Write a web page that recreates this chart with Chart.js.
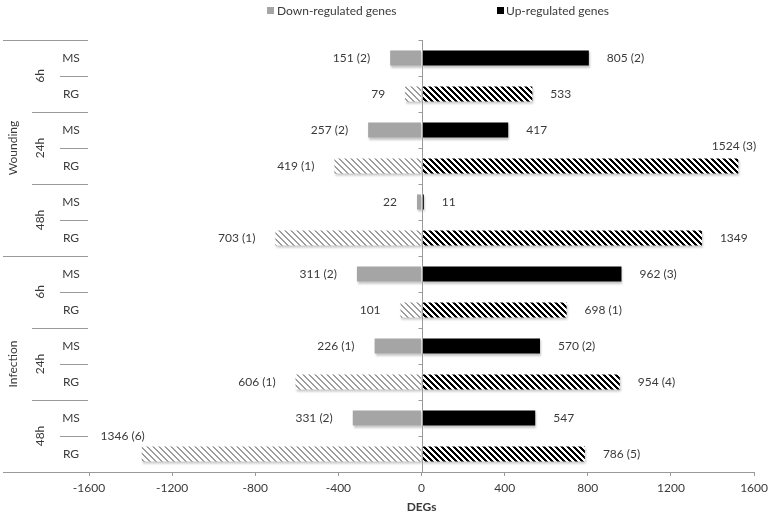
<!DOCTYPE html>
<html lang="en">
<head>
  <meta charset="UTF-8">
  <title>DEGs chart</title>
  <style>
    body { margin: 0; background: #fff; }
    #wrap { width: 773px; height: 515px; }
  </style>
</head>
<body>
  <div id="wrap">
    <canvas id="degChart" width="773" height="515"></canvas>
  </div>

  <script src="https://cdn.jsdelivr.net/npm/chart.js"></script>
  <script>
    // dados
    const groups = ['Wounding', 'Infection'];
    const times = ['6h', '24h', '48h'];
    const lines = ['MS', 'RG'];
    const downValues = [-151, -79, -257, -419, -22, -703, -311, -101, -226, -606, -331, -1346];
    const upValues = [805, 533, 417, 1524, 11, 1349, 962, 698, 570, 954, 547, 786];
    const downNotes = ['(2)', '', '(2)', '(1)', '', '(1)', '(2)', '', '(1)', '(1)', '(2)', '(6)'];
    const upNotes = ['(2)', '', '', '(3)', '', '', '(3)', '(1)', '(2)', '(4)', '', '(5)'];
    const xTicks = [-1600, -1200, -800, -400, 0, 400, 800, 1200, 1600];

    const labels = [];
    groups.forEach(g => times.forEach(t => lines.forEach(l => labels.push(l))));

    const textColor = '#3a3a3a';
    const axisColor = '#9a9a9a';
    const fontName = 'Lato, "Open Sans", sans-serif';

    // hachuras
    function hatch(color, stripe) {
      const c = document.createElement('canvas');
      c.width = 6; c.height = 6;
      const g = c.getContext('2d');
      g.fillStyle = '#fff';
      g.fillRect(0, 0, 6, 6);
      g.fillStyle = color;
      for (let x = 0; x < 6; x++) {
        for (let y = 0; y < 6; y++) {
          if (((x - y) % 6 + 6) % 6 < stripe) g.fillRect(x, y, 1, 1);
        }
      }
      return g.createPattern(c, 'repeat');
    }
    const grayHatch = hatch('#9c9c9c', 2);
    const blackHatch = hatch('#000', 3);

    const downColors = labels.map(l => l === 'RG' ? grayHatch : '#a5a5a5');
    const upColors = labels.map(l => l === 'RG' ? blackHatch : '#000');

    // sombra leve nas barras
    const shadowPlugin = {
      id: 'shadowPlugin',
      beforeDatasetsDraw(chart) {
        const ctx = chart.ctx;
        ctx.save();
        ctx.shadowColor = 'rgba(0,0,0,0.22)';
        ctx.shadowOffsetX = 1;
        ctx.shadowOffsetY = 2;
        ctx.shadowBlur = 2;
      },
      afterDatasetsDraw(chart) {
        chart.ctx.restore();
      }
    };

    const tablePlugin = {
      id: 'tablePlugin',
      afterDatasetsDraw(chart) {
        const ctx = chart.ctx;
        const area = chart.chartArea;
        const y = chart.scales.y;
        const x = chart.scales.x;
        const rowH = (area.bottom - area.top) / labels.length;
        const x0 = Math.round(x.getPixelForValue(0)) + 0.5;

        ctx.save();
        // eixo vertical no zero
        ctx.strokeStyle = axisColor;
        ctx.lineWidth = 1;
        ctx.beginPath();
        ctx.moveTo(x0, area.top);
        ctx.lineTo(x0, area.bottom);
        for (let k = 0; k <= labels.length; k++) {
          const yy = Math.round(area.top + k * rowH) + 0.5;
          ctx.moveTo(x0 - 4, yy);
          ctx.lineTo(x0, yy);
        }
        ctx.stroke();

        // tabela de categorias
        ctx.beginPath();
        for (let k = 0; k <= labels.length; k++) {
          const yy = Math.round(area.top + k * rowH) + 0.5;
          let start;
          if (k % 6 === 0) start = 3;
          else if (k % 2 === 0) start = 32;
          else start = 60;
          ctx.moveTo(start, yy);
          ctx.lineTo(k === labels.length ? area.left : area.left - 1, yy);
        }
        ctx.stroke();

        ctx.fillStyle = textColor;
        ctx.font = '12px ' + fontName;
        ctx.textAlign = 'center';
        ctx.textBaseline = 'middle';
        labels.forEach((l, i) => {
          ctx.fillText(l, 71, y.getPixelForValue(i));
        });
        times.forEach((t, ti) => {
          groups.forEach((g, gi) => {
            const idx = gi * 6 + ti * 2;
            const cy = (y.getPixelForValue(idx) + y.getPixelForValue(idx + 1)) / 2;
            ctx.save();
            ctx.translate(40, cy);
            ctx.rotate(-Math.PI / 2);
            ctx.fillText(t, 0, 0);
            ctx.restore();
          });
        });
        groups.forEach((g, gi) => {
          const cy = (y.getPixelForValue(gi * 6) + y.getPixelForValue(gi * 6 + 5)) / 2;
          ctx.save();
          ctx.translate(13, cy);
          ctx.rotate(-Math.PI / 2);
          ctx.fillText(g, 0, 0);
          ctx.restore();
        });

        // rótulos dos valores
        const downMeta = chart.getDatasetMeta(0);
        const upMeta = chart.getDatasetMeta(1);
        downMeta.data.forEach((bar, i) => {
          const txt = Math.abs(downValues[i]) + (downNotes[i] ? ' ' + downNotes[i] : '');
          const w = ctx.measureText(txt).width;
          ctx.textAlign = 'right';
          if (bar.x - 20 - w < area.left) {
            ctx.fillText(txt, bar.x + 3, bar.y - 18);
          } else {
            ctx.fillText(txt, bar.x - 20, bar.y);
          }
        });
        upMeta.data.forEach((bar, i) => {
          const txt = upValues[i] + (upNotes[i] ? ' ' + upNotes[i] : '');
          const w = ctx.measureText(txt).width;
          if (bar.x + 18 + w > area.right) {
            ctx.textAlign = 'right';
            ctx.fillText(txt, area.right + 2, bar.y - 20);
          } else {
            ctx.textAlign = 'left';
            ctx.fillText(txt, bar.x + 18, bar.y);
          }
        });

        // legenda
        ctx.textAlign = 'left';
        ctx.fillStyle = '#a5a5a5';
        ctx.fillRect(267, 7, 7, 7);
        ctx.fillStyle = '#000';
        ctx.fillRect(497, 7, 7, 7);
        ctx.fillStyle = textColor;
        ctx.fillText('Down-regulated genes', 277, 11);
        ctx.fillText('Up-regulated genes', 506, 11);
        ctx.restore();
      }
    };

    new Chart(document.getElementById('degChart'), {
      type: 'bar',
      data: {
        labels: labels,
        datasets: [{
          label: 'Down-regulated genes',
          data: downValues,
          backgroundColor: downColors,
          borderWidth: 0
        },
        {
          label: 'Up-regulated genes',
          data: upValues,
          backgroundColor: upColors,
          borderWidth: 0
        }]
      },
      options: {
        indexAxis: 'y',
        responsive: false,
        animation: false,
        layout: { padding: { top: 40, left: 89, right: 18, bottom: 0 } },
        plugins: {
          legend: { display: false },
          tooltip: { enabled: false }
        },
        datasets: {
          bar: { barPercentage: 0.42, categoryPercentage: 1 }
        },
        scales: {
          y: {
            display: false,
            stacked: true
          },
          x: {
            stacked: true,
            min: -1600,
            max: 1600,
            afterFit(scale) { scale.height = 43; },
            afterBuildTicks(scale) { scale.ticks = xTicks.map(v => ({ value: v })); },
            grid: { drawOnChartArea: false, drawTicks: true, tickLength: 4, color: axisColor },
            border: { display: true, color: axisColor },
            ticks: {
              color: textColor,
              padding: 5,
              font: { family: fontName, size: 12 },
              callback: v => String(v)
            },
            title: {
              display: true,
              text: 'DEGs',
              color: textColor,
              padding: { top: 2, bottom: 1 },
              font: { family: fontName, size: 12, weight: 'bold' }
            }
          }
        }
      },
      plugins: [shadowPlugin, tablePlugin]
    });
  </script>
</body>
</html>
